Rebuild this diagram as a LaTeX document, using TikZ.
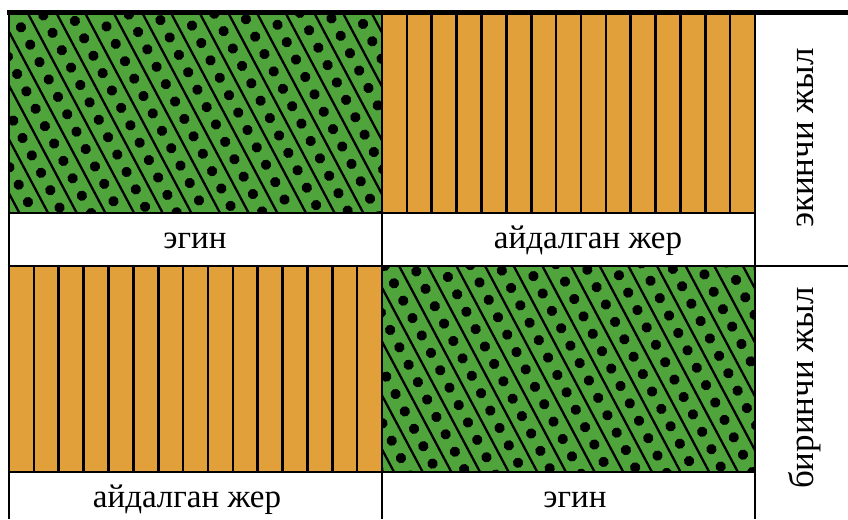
\documentclass[tikz,border=0pt]{standalone}
\usepackage{fontspec}
\setmainfont{Liberation Serif}
\usetikzlibrary{positioning}
\definecolor{fieldgreen}{RGB}{80,164,60}
\definecolor{fieldorange}{RGB}{226,160,58}
% green plot: #1,#2 top left corner, #3,#4 bottom right corner
\newcommand{\cropplot}[4]{%
  \begin{scope}
    \clip (#1,#2) rectangle (#3,#4);
    \fill[fieldgreen] (#1,#2) rectangle (#3,#4);
    \begin{scope}[shift={({(#1+#3)/2},{(#2+#4)/2})}, rotate=28]
      \foreach \k in {-10,...,10} {
        \draw[diag] ({\k*25.3pt},-250pt) -- ({\k*25.3pt},250pt);
        \foreach \j in {-13,...,13}
          \fill ({(\k+0.5)*25.3pt},{\j*19.7pt}) circle (5.2pt);
      }
    \end{scope}
  \end{scope}}
% fallow plot with vertical furrows
\newcommand{\fallowplot}[4]{%
  \fill[fieldorange] (#1,#2) rectangle (#3,#4);
  \foreach \i in {1,...,14}
    \draw[furrow] ({#1+\i*(#3-#1)/15},#2) -- ({#1+\i*(#3-#1)/15},#4);}

\begin{document}
\begin{tikzpicture}[x=1pt, y=-1pt,
   rule/.style={line width=2.4pt},
   furrow/.style={line width=2.6pt},
   diag/.style={line width=2.3pt},
   lbl/.style={font=\fontsize{33}{38}\selectfont, inner sep=0pt, anchor=base},
   yearlbl/.style={font=\fontsize{35}{40}\selectfont, inner sep=0pt, rotate=90}
]
\useasboundingbox (0,0) rectangle (848,519);

% plots
\cropplot{9}{13}{382}{213}
\fallowplot{382}{13}{755}{213}
\fallowplot{9}{266}{382}{472}
\cropplot{382}{266}{755}{472}

% grid
\draw[line width=5pt] (7,12.5) -- (848,12.5);
\draw[rule] (9,12) -- (9,519);
\draw[rule] (382,12) -- (382,519);
\draw[rule] (755,12) -- (755,519);
\draw[rule] (9,213) -- (755,213);
\draw[rule] (9,266) -- (848,266);
\draw[rule] (9,472) -- (755,472);

% labels
\node[lbl] (crop1) at (195,248) {эгин};
\node[lbl] (fallow1) at (588,248) {айдалган жер};
\node[lbl] (fallow2) at (187,507) {айдалган жер};
\node[lbl] (crop2) at (575,507) {эгин};
\node[yearlbl] (year2) at (805,138) {экинчи жыл};
\node[yearlbl] (year1) at (805,388) {биринчи жыл};
\end{tikzpicture}
\end{document}
